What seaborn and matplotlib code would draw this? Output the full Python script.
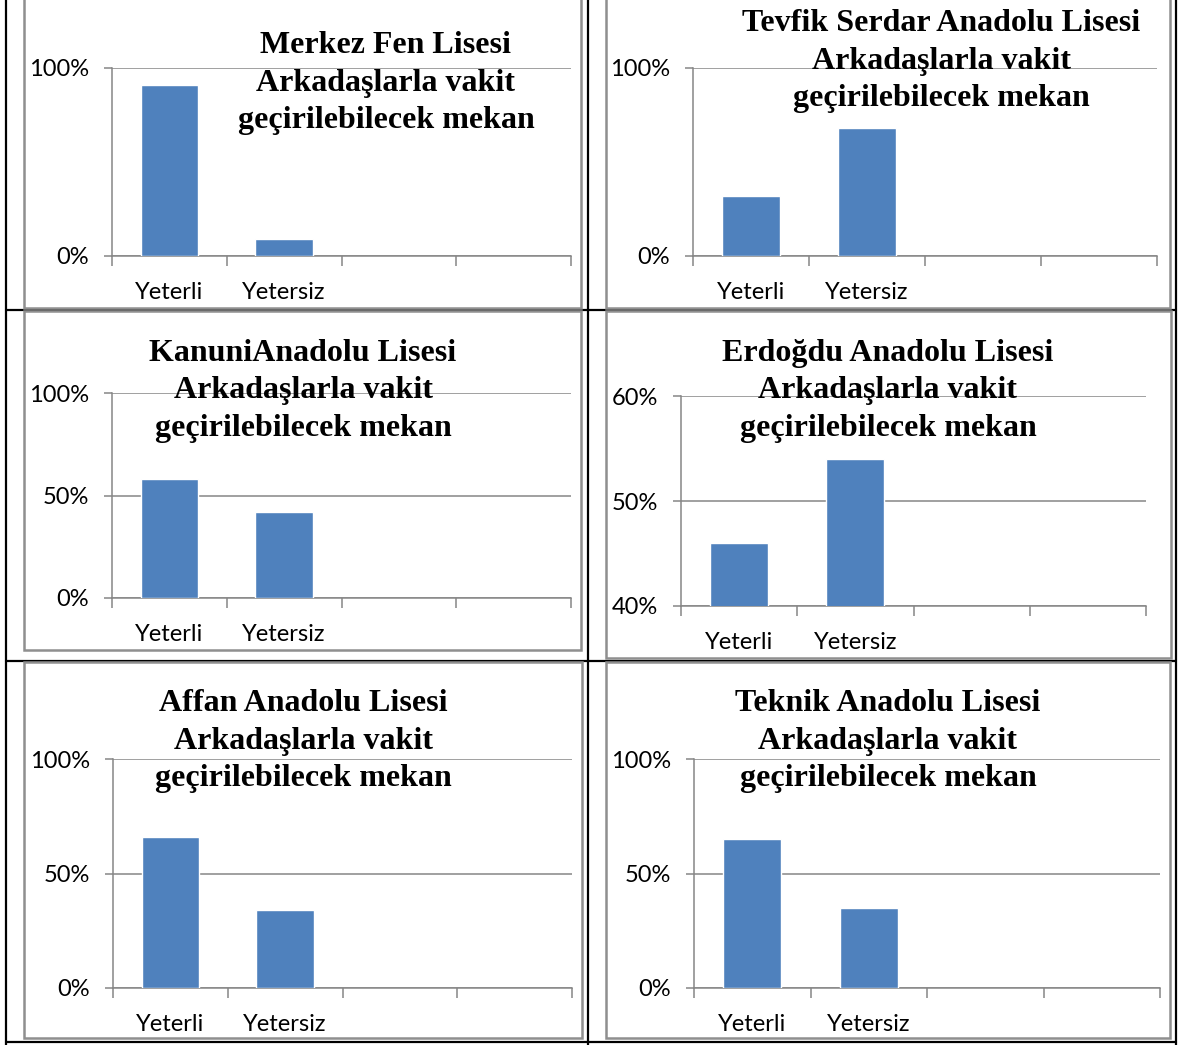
import matplotlib
matplotlib.use("Agg")
import matplotlib.pyplot as plt
import seaborn as sns
from matplotlib.patches import Rectangle
from matplotlib.lines import Line2D
from matplotlib.ticker import FuncFormatter, FixedLocator

sns.set_theme(style="white")

W, H = 1178, 1045

# data (percent)
schools = ["Merkez Fen Lisesi", "Tevfik Serdar Anadolu Lisesi", "KanuniAnadolu Lisesi",
           "Erdoğdu Anadolu Lisesi", "Affan Anadolu Lisesi", "Teknik Anadolu Lisesi"]
categories = ["Yeterli", "Yetersiz"]
yeterli = [91, 32, 58, 46, 66, 65]
yetersiz = [9, 68, 42, 54, 34, 35]
subtitle = "Arkadaşlarla vakit\ngeçirilebilecek mekan"

ylims = [(0, 100), (0, 100), (0, 100), (40, 60), (0, 100), (0, 100)]
yticks = [[0, 100], [0, 100], [0, 50, 100], [40, 50, 60], [0, 50, 100], [0, 50, 100]]

# layout in pixels: plot area (left, right, top, bottom), title centre
ax_px = [(112, 571, 68, 256), (693, 1157, 68, 256), (112, 571, 393, 598),
         (681, 1146, 396, 606), (113, 572, 759, 988), (694, 1160, 759, 988)]
title_px = [(386, 83), (941, 61), (303, 391), (888, 391), (303, 741), (888, 741)]
boxes_px = [(24, 581, -10, 308), (606, 1170, -10, 308), (24, 581, 311, 650),
            (606, 1171, 311, 658), (24, 582, 662, 1038), (606, 1170, 662, 1038)]

BAR = "#4F81BD"
GRID = "#868686"
TICKFONT = "Lato"
TITLEFONT = "Liberation Serif"

fig = plt.figure(figsize=(W / 100, H / 100), dpi=100)
fig.patch.set_facecolor("white")

# table lines
for x in [6, 588, 1176]:
    fig.add_artist(Line2D([x / W, x / W], [0, 1], color="black", lw=1.6, zorder=-3))
for y in [310, 661, 1042]:
    fig.add_artist(Line2D([6 / W, 1176 / W], [1 - y / H, 1 - y / H], color="black", lw=1.6, zorder=-3))

# chart frames
for (l, r, t, b) in boxes_px:
    fig.add_artist(Rectangle((l / W, 1 - b / H), (r - l) / W, (b - t) / H,
                             facecolor="white", edgecolor="#8f8f8f", lw=1.8, zorder=-2))

pct = FuncFormatter(lambda v, p: f"{int(round(v))}%")

for i, school in enumerate(schools):
    l, r, t, b = ax_px[i]
    ax = fig.add_axes([l / W, 1 - b / H, (r - l) / W, (b - t) / H])
    ax.set_facecolor("none")
    sns.barplot(x=categories, y=[yeterli[i], yetersiz[i]], ax=ax, color=BAR,
                width=0.5, saturation=1, zorder=3)
    ax.set_xlim(-0.5, 3.5)
    ax.set_ylim(*ylims[i])
    ax.set_yticks(yticks[i])
    ax.yaxis.set_major_formatter(pct)
    ax.grid(axis="y", color=GRID, lw=1.1, zorder=0)
    ax.grid(axis="x", visible=False)
    for s in ["top", "right"]:
        ax.spines[s].set_visible(False)
    for s in ["left", "bottom"]:
        ax.spines[s].set_color(GRID)
        ax.spines[s].set_linewidth(1.1)
    ax.xaxis.set_minor_locator(FixedLocator([-0.5, 0.5, 1.5, 2.5, 3.5]))
    ax.tick_params(axis="x", which="major", length=0, pad=19, labelsize=17)
    ax.tick_params(axis="x", which="minor", length=7, width=1.1, color=GRID, bottom=True)
    ax.tick_params(axis="y", length=5.5, width=1.1, color=GRID, pad=11, labelsize=17, left=True)
    for lab in ax.get_xticklabels() + ax.get_yticklabels():
        lab.set_fontfamily(TICKFONT)
        lab.set_color("black")
    ax.set_xlabel("")
    ax.set_ylabel("")

    tx, ty = title_px[i]
    fig.text(tx / W, 1 - ty / H, f"{school}\n{subtitle}", ha="center", va="center",
             fontsize=23, fontweight="bold", family=TITLEFONT, linespacing=1.37,
             color="black", zorder=5)

fig.savefig("out.png", dpi=100, facecolor="white")
